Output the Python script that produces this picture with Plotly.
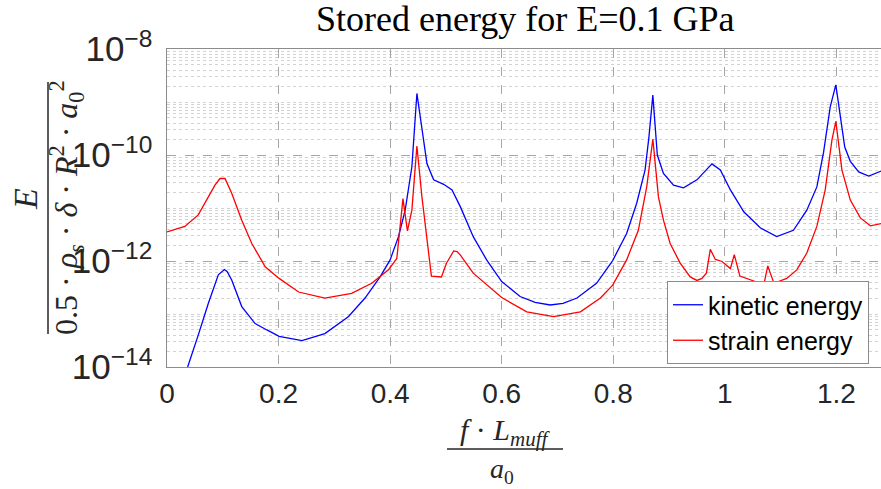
import plotly.graph_objects as go

# ---- data ----
kin_x = [0.000, 0.037, 0.056, 0.074, 0.092, 0.103, 0.108, 0.116, 0.134, 0.158, 0.179, 0.201,
         0.242, 0.283, 0.325, 0.355, 0.382, 0.400, 0.415, 0.427, 0.439, 0.448, 0.466, 0.478,
         0.496, 0.511, 0.526, 0.549, 0.573, 0.600, 0.633, 0.660, 0.687, 0.710, 0.735, 0.770,
         0.799, 0.824, 0.842, 0.857, 0.864, 0.871, 0.879, 0.890, 0.908, 0.926, 0.950, 0.977,
         0.992, 1.010, 1.034, 1.064, 1.093, 1.123, 1.147, 1.165, 1.177, 1.189, 1.199, 1.207,
         1.215, 1.225, 1.240, 1.258, 1.281]
kin_y = [8.7e-16, 1.0e-14, 4.0e-14, 1.58e-13, 5.5e-13, 6.9e-13, 6.3e-13, 4.37e-13, 1.38e-13,
         6.6e-14, 5.0e-14, 3.8e-14, 3.16e-14, 4.27e-14, 8.9e-14, 2.0e-13, 5.0e-13, 1.05e-12,
         2.88e-12, 9.1e-12, 6.0e-11, 1.45e-9, 6.9e-11, 3.4e-11, 2.8e-11, 2.19e-11, 1.05e-11,
         2.88e-12, 1.05e-12, 4.1e-13, 2.14e-13, 1.66e-13, 1.48e-13, 1.58e-13, 2.0e-13, 3.8e-13,
         1.02e-12, 3.3e-12, 1.23e-11, 5.2e-11, 2.2e-10, 1.35e-9, 1.0e-10, 4.5e-11, 2.7e-11,
         2.4e-11, 3.4e-11, 6.8e-11, 5.2e-11, 2.19e-11, 8.5e-12, 4.2e-12, 2.88e-12, 3.8e-12,
         9.1e-12, 2.5e-11, 1.12e-10, 8.1e-10, 2.1e-9, 5.0e-10, 1.41e-10, 7.6e-11, 4.8e-11,
         4.0e-11, 5.0e-11]

str_x = [0.000, 0.032, 0.056, 0.074, 0.086, 0.095, 0.104, 0.116, 0.134, 0.152, 0.176, 0.201,
         0.236, 0.283, 0.331, 0.367, 0.397, 0.412, 0.423, 0.431, 0.439, 0.448, 0.457, 0.474,
         0.492, 0.501, 0.514, 0.520, 0.526, 0.549, 0.600, 0.645, 0.693, 0.741, 0.777, 0.799,
         0.824, 0.845, 0.860, 0.871, 0.881, 0.890, 0.902, 0.920, 0.938, 0.950, 0.959, 0.967,
         0.974, 0.983, 0.995, 1.010, 1.017, 1.027, 1.046, 1.070, 1.077, 1.088, 1.111, 1.129,
         1.147, 1.165, 1.180, 1.192, 1.199, 1.204, 1.210, 1.225, 1.243, 1.261, 1.281]
str_y = [3.55e-12, 4.5e-12, 7.4e-12, 1.62e-11, 2.7e-11, 3.6e-11, 3.6e-11, 1.9e-11, 5.9e-12,
         2.14e-12, 7.8e-13, 4.7e-13, 2.6e-13, 2.0e-13, 2.45e-13, 3.8e-13, 6.8e-13, 1.12e-12,
         1.5e-11, 3.7e-12, 9.1e-12, 1.48e-10, 1.62e-11, 5.2e-13, 5.0e-13, 9.1e-13, 1.55e-12,
         1.51e-12, 1.29e-12, 5.9e-13, 2.04e-13, 1.10e-13, 8.9e-14, 1.10e-13, 2.0e-13, 3.5e-13,
         1.05e-12, 3.8e-12, 2.5e-11, 2.0e-10, 1.62e-11, 5.9e-12, 2.14e-12, 9.1e-13, 5.0e-13,
         4.3e-13, 4.7e-13, 5.9e-13, 1.66e-12, 1.07e-12, 9.8e-13, 7.2e-13, 1.32e-12, 5.2e-13,
         4.4e-13, 3.6e-13, 8.1e-13, 3.8e-13, 4.7e-13, 6.8e-13, 1.41e-12, 4.5e-12, 2.19e-11,
         1.9e-10, 4.3e-10, 1.45e-10, 5.2e-11, 1.41e-11, 6.5e-12, 4.6e-12, 5.1e-12]

x_ticks = [0, 0.2, 0.4, 0.6, 0.8, 1, 1.2]
x_tick_labels = ["0", "0.2", "0.4", "0.6", "0.8", "1", "1.2"]
series_names = ["kinetic energy", "strain energy"]
title_text = "Stored energy for E=0.1 GPa"

# ---- layout geometry (pixels) ----
W, H = 881, 489
L, R, T, B = 167, 0, 49, 122
PW, PH = W - L - R, H - T - B


def px(xp):
    return (xp - L) / PW


def py(yp):
    return (H - B - yp) / PH


TXT = "#262626"
fig = go.Figure()
fig.add_trace(go.Scatter(x=kin_x, y=kin_y, mode="lines", name=series_names[0],
                         line=dict(color="#0000ff", width=1.3)))
fig.add_trace(go.Scatter(x=str_x, y=str_y, mode="lines", name=series_names[1],
                         line=dict(color="#ff0000", width=1.3)))

fig.update_layout(
    width=W, height=H,
    margin=dict(l=L, r=R, t=T, b=B, autoexpand=False),
    plot_bgcolor="white", paper_bgcolor="white",
    showlegend=True,
    legend=dict(x=px(869), y=py(364), xanchor="right", yanchor="bottom",
                bgcolor="white", bordercolor="#8c8c8c", borderwidth=1,
                font=dict(family="Liberation Sans, Arial", size=25, color="black"),
                itemwidth=30, tracegroupgap=0),
    font=dict(family="Liberation Sans, Arial", color=TXT),
)

fig.update_xaxes(
    range=[0, 1.28], tickvals=x_ticks, ticktext=x_tick_labels,
    showgrid=True, gridcolor="#a6a6a6", griddash="dash", gridwidth=1,
    showline=True, linecolor="#8c8c8c", linewidth=1.2, mirror=True,
    ticks="", ticklabelstandoff=1,
    tickfont=dict(family="Liberation Sans, Arial", size=28, color=TXT),
    zeroline=False,
)
fig.update_yaxes(
    type="log", range=[-14, -8], dtick=2, exponentformat="power",
    showgrid=True, gridcolor="#a6a6a6", griddash="dash", gridwidth=1,
    minor=dict(dtick="D1", showgrid=True, gridcolor="#d2d2d2", griddash="dot", gridwidth=1),
    showline=True, linecolor="#8c8c8c", linewidth=1.2, mirror=False,
    ticks="", ticklabelstandoff=8,
    tickfont=dict(family="Liberation Sans, Arial", size=28, color=TXT),
    zeroline=False,
)

SERIF = "Liberation Serif, Times New Roman, serif"
ann = []
# title
ann.append(dict(x=px(525), y=py(19), xref="paper", yref="paper", text=title_text,
                showarrow=False, xanchor="center", yanchor="middle",
                font=dict(family=SERIF, size=36, color="black")))
# y label fraction
ann.append(dict(x=px(25), y=py(199), xref="paper", yref="paper", text="<i>E</i>",
                showarrow=False, xanchor="center", yanchor="middle", textangle=-90,
                font=dict(family=SERIF, size=34, color=TXT)))
ann.append(dict(x=px(66), y=py(208), xref="paper", yref="paper",
                text="0.5 · <i>ρ</i><sub><i>s</i></sub> · <i>δ</i> · <i>R</i><sup>2</sup> · <i>a</i><sub>0</sub><sup>2</sup>",
                showarrow=False, xanchor="center", yanchor="middle", textangle=-90,
                font=dict(family=SERIF, size=32, color=TXT)))
# x label fraction
ann.append(dict(x=px(505), y=py(432), xref="paper", yref="paper",
                text="<i>f</i> · <i>L</i><sub><i>muff</i></sub>",
                showarrow=False, xanchor="center", yanchor="middle",
                font=dict(family=SERIF, size=30, color=TXT)))
ann.append(dict(x=px(502), y=py(470), xref="paper", yref="paper",
                text="<i>a</i><sub>0</sub>",
                showarrow=False, xanchor="center", yanchor="middle",
                font=dict(family=SERIF, size=28, color=TXT)))
fig.update_layout(annotations=ann)

fig.add_shape(type="line", xref="paper", yref="paper",
              x0=px(48), x1=px(48), y0=py(334), y1=py(82),
              line=dict(color=TXT, width=1.5))
fig.add_shape(type="line", xref="paper", yref="paper",
              x0=px(447), x1=px(563), y0=py(449), y1=py(449),
              line=dict(color=TXT, width=1.5))

fig.write_html("out.html", config={"displayModeBar": False},
               post_script="document.body.style.margin='0';document.body.style.overflow='hidden';")
